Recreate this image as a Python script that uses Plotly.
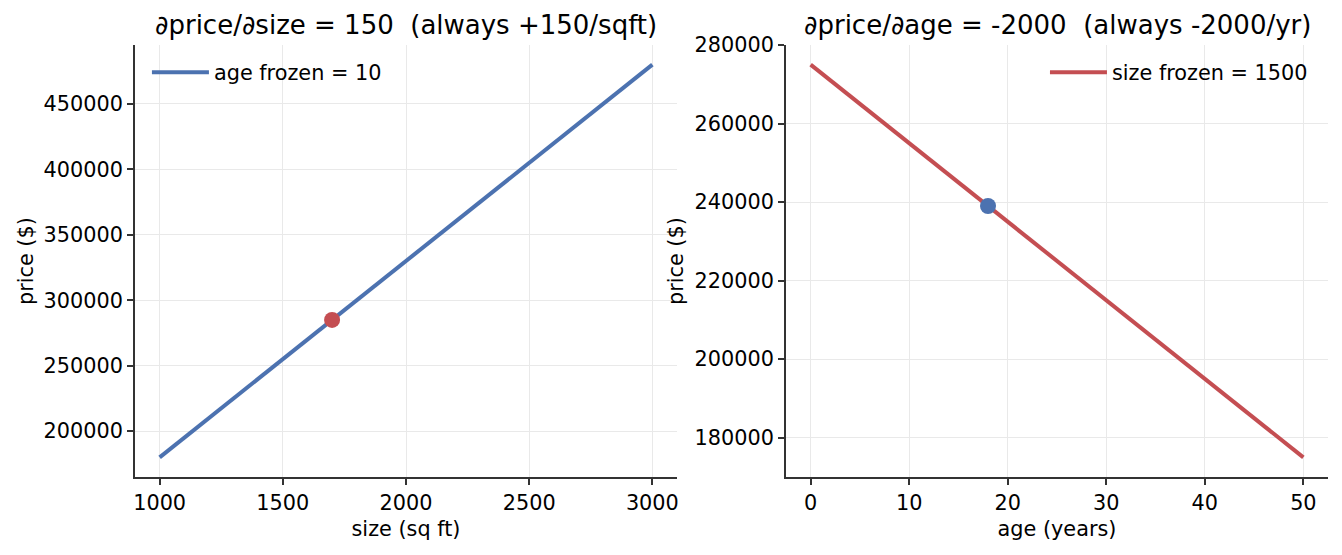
import plotly.graph_objects as go

# left panel: vary size, age held at 10
size_sqft = [1000, 1500, 2000, 2500, 3000]
price_by_size = [180000, 255000, 330000, 405000, 480000]
size_point = [1700]
size_point_price = [285000]

# right panel: vary age, size held at 1500
age_years = [0, 10, 20, 30, 40, 50]
price_by_age = [275000, 255000, 235000, 215000, 195000, 175000]
age_point = [18]
age_point_price = [239000]

blue = '#4C72B0'
red = '#C44E52'
ink = '#333333'
font_family = 'DejaVu Sans'

fig = go.Figure()

fig.add_trace(go.Scatter(
  x=size_sqft, y=price_by_size, mode='lines', name='age frozen = 10',
  line=dict(color=blue, width=4), xaxis='x', yaxis='y', legend='legend',
))
fig.add_trace(go.Scatter(
  x=size_point, y=size_point_price, mode='markers', showlegend=False,
  marker=dict(color=red, size=16), xaxis='x', yaxis='y',
))
fig.add_trace(go.Scatter(
  x=age_years, y=price_by_age, mode='lines', name='size frozen = 1500',
  line=dict(color=red, width=4), xaxis='x2', yaxis='y2', legend='legend2',
))
fig.add_trace(go.Scatter(
  x=age_point, y=age_point_price, mode='markers', showlegend=False,
  marker=dict(color=blue, size=16), xaxis='x2', yaxis='y2',
))

axis_style = dict(
  showline=True, linecolor=ink, linewidth=1.7, mirror=False,
  ticks='outside', ticklen=6, tickwidth=1.7, tickcolor=ink,
  showgrid=True, gridcolor='#e9e9e9', gridwidth=1.4,
  zeroline=False, tickformat='d', automargin=False,
  tickfont=dict(size=20.8, color='black', family=font_family),
  title_font=dict(size=20.8, color='black', family=font_family),
)

label_font = dict(size=20.8, family=font_family, color='black')
title_font = dict(size=26, family=font_family, color='black')

# the page body has an 8px margin, so the figure is 8px smaller
split = 542 / 1193
fig.update_layout(
  width=1334, height=547,
  margin=dict(l=127, r=14, t=37, b=78, pad=0),
  paper_bgcolor='white', plot_bgcolor='white',
  font=dict(family=font_family, color='black'),
  xaxis=dict(domain=[0, split], range=[900, 3100], dtick=500,
             title=dict(text='size (sq ft)', standoff=8), **axis_style),
  yaxis=dict(domain=[0, 1], range=[165000, 495000], dtick=50000, **axis_style),
  xaxis2=dict(domain=[1 - split, 1], range=[-2.5, 52.5], dtick=10,
              title=dict(text='age (years)', standoff=8), anchor='y2', **axis_style),
  yaxis2=dict(domain=[0, 1], range=[170000, 280000], dtick=20000, anchor='x2', **axis_style),
  legend=dict(x=0.01, y=0.983, xanchor='left', yanchor='top', itemwidth=57,
              bgcolor='rgba(0,0,0,0)', font=dict(size=20.8, family=font_family)),
  legend2=dict(x=0.9874, y=0.983, xanchor='right', yanchor='top', itemwidth=57,
               bgcolor='rgba(0,0,0,0)', font=dict(size=20.8, family=font_family)),
  annotations=[
    dict(text='∂price/∂size = 150  (always +150/sqft)', x=split / 2, y=1,
         xref='paper', yref='paper', xanchor='center', yanchor='bottom', yshift=3,
         height=30, showarrow=False, font=title_font),
    dict(text='∂price/∂age = -2000  (always -2000/yr)', x=1 - split / 2, y=1,
         xref='paper', yref='paper', xanchor='center', yanchor='bottom', yshift=3,
         height=30, showarrow=False, font=title_font),
    dict(text='price ($)', x=0, y=0.5, xref='paper', yref='paper', xshift=-109,
         xanchor='center', yanchor='middle', textangle=-90, showarrow=False, font=label_font),
    dict(text='price ($)', x=1 - split, y=0.5, xref='paper', yref='paper', xshift=-110,
         xanchor='center', yanchor='middle', textangle=-90, showarrow=False, font=label_font),
  ],
)

fig.write_html('out.html')
